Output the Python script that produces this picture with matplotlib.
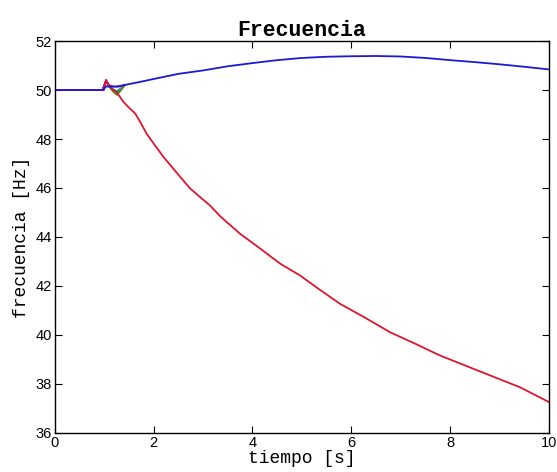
import matplotlib
matplotlib.use("Agg")
import matplotlib.pyplot as plt

# frequency after the disturbance
t_blue = [0, 0.97, 1.02, 1.05, 1.1, 1.2, 1.3, 1.4, 1.7, 2.0, 2.5, 3.0, 3.5, 4.0, 4.5,
          5.0, 5.5, 6.0, 6.5, 7.0, 7.5, 8.0, 8.5, 9.0, 9.5, 10.0]
f_blue = [50.0, 50.0, 50.1, 50.15, 50.14, 50.14, 50.16, 50.2, 50.32, 50.45, 50.66,
          50.8, 50.97, 51.1, 51.22, 51.31, 51.36, 51.38, 51.39, 51.37, 51.31, 51.22,
          51.14, 51.05, 50.95, 50.84]

t_red = [0, 1.0, 1.04, 1.1, 1.18, 1.26, 1.39, 1.49, 1.63, 1.73, 1.86, 2.03, 2.2, 2.4,
         2.57, 2.74, 2.94, 3.14, 3.35, 3.75, 4.16, 4.56, 4.96, 5.33, 5.77, 6.28, 6.78,
         7.29, 7.79, 8.3, 8.81, 9.41, 10.0]
f_red = [50.0, 50.0, 50.42, 50.2, 50.02, 49.9, 49.52, 49.31, 49.04, 48.7, 48.22,
         47.74, 47.27, 46.79, 46.38, 45.98, 45.63, 45.29, 44.84, 44.13, 43.52, 42.91,
         42.43, 41.89, 41.27, 40.7, 40.11, 39.64, 39.16, 38.75, 38.34, 37.86, 37.25]

# the other cases only differ in the first half second
t_trans = [0.97, 1.04, 1.1, 1.18, 1.26, 1.33, 1.42]
trans = {
    "g": [50.0, 50.38, 50.15, 49.95, 49.8, 49.97, 50.2],
    "#008080": [50.0, 50.38, 50.16, 49.98, 49.85, 50.0, 50.2],
    "k": [50.0, 50.37, 50.17, 50.0, 49.9, 50.03, 50.2],
    "c": [50.0, 50.36, 50.18, 50.04, 49.96, 50.07, 50.2],
    "#808000": [50.0, 50.37, 50.15, 49.97, 49.83, 49.99, 50.2],
    "m": [50.0, 50.4, 50.2, 50.15, 50.13, 50.15, 50.21],
}

mono = "Liberation Mono"
sans = "Liberation Sans"

fig = plt.figure(figsize=(5.57, 4.72), dpi=100)
ax = fig.add_axes([0.098, 0.083, 0.888, 0.83])

for c, vals in trans.items():
    ax.plot(t_trans, vals, color=c, lw=1.2)
ax.plot(t_red, f_red, color="#e0142d", lw=1.3)
ax.plot(t_blue, f_blue, color="#1a1ad6", lw=1.3)

ax.set_xlim(0, 10)
ax.set_ylim(36, 52)
ax.set_xticks(range(0, 11, 2))
ax.set_yticks(range(36, 53, 2))
ax.tick_params(direction="in", top=True, right=True, length=5, width=0.8,
               labelsize=10.5, pad=2)
for lab in ax.get_xticklabels() + ax.get_yticklabels():
    lab.set_family(sans)
for s in ax.spines.values():
    s.set_linewidth(1.0)

ax.set_title("Frecuencia", family=mono, weight="bold", fontsize=15.5, pad=4)
ax.set_xlabel("tiempo [s]", family=mono, fontsize=13, labelpad=0)
ax.set_ylabel("frecuencia [Hz]", family=mono, fontsize=13, labelpad=4)

fig.savefig("out.png", dpi=100)
